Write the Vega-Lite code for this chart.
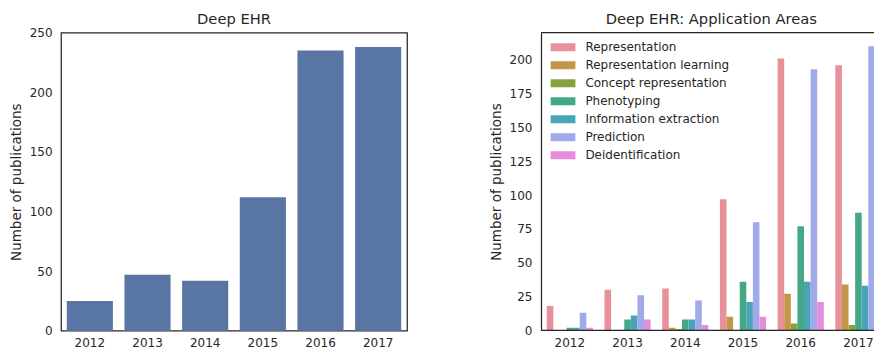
{
  "$schema": "https://vega.github.io/schema/vega-lite/v6.json",
  "padding": {"left": 8, "top": 10.7, "right": 0, "bottom": 0},
  "spacing": 81,
  "resolve": {"legend": {"color": "independent"}, "scale": {"color": "independent"}},
  "config": {
    "font": "DejaVu Sans",
    "view": {"stroke": "#262626", "strokeWidth": 1.25},
    "axis": {
      "labelFont": "DejaVu Sans", "titleFont": "DejaVu Sans",
      "labelColor": "#262626", "titleColor": "#262626",
      "labelFontSize": 12, "titleFontSize": 13.5, "titleFontWeight": "normal",
      "ticks": false, "tickSize": 0, "grid": false, "domain": false,
      "labelPadding": 9, "titlePadding": 6, "labelOverlap": false
    },
    "axisX": {"labelPadding": 7},
    "title": {"font": "DejaVu Sans", "fontSize": 14.7, "fontWeight": "normal", "color": "#262626", "offset": -0.3},
    "legend": {
      "labelFont": "DejaVu Sans", "labelFontSize": 12, "labelColor": "#262626",
      "symbolType": "M-1,-0.32H1V0.32H-1Z", "symbolSize": 625, "symbolStrokeWidth": 0,
      "labelOffset": 10, "rowPadding": 0, "clipHeight": 17.5, "padding": 0
    }
  },
  "datasets": {
    "total": [
      {"year": "2012", "count": 25},
      {"year": "2013", "count": 47},
      {"year": "2014", "count": 42},
      {"year": "2015", "count": 112},
      {"year": "2016", "count": 235},
      {"year": "2017", "count": 238}
    ],
    "areas": [
      {"year": "2012", "area": "Representation", "count": 18},
      {"year": "2012", "area": "Representation learning", "count": 0},
      {"year": "2012", "area": "Concept representation", "count": 0},
      {"year": "2012", "area": "Phenotyping", "count": 2},
      {"year": "2012", "area": "Information extraction", "count": 2},
      {"year": "2012", "area": "Prediction", "count": 13},
      {"year": "2012", "area": "Deidentification", "count": 2},
      {"year": "2013", "area": "Representation", "count": 30},
      {"year": "2013", "area": "Representation learning", "count": 0},
      {"year": "2013", "area": "Concept representation", "count": 0},
      {"year": "2013", "area": "Phenotyping", "count": 8},
      {"year": "2013", "area": "Information extraction", "count": 11},
      {"year": "2013", "area": "Prediction", "count": 26},
      {"year": "2013", "area": "Deidentification", "count": 8},
      {"year": "2014", "area": "Representation", "count": 31},
      {"year": "2014", "area": "Representation learning", "count": 2},
      {"year": "2014", "area": "Concept representation", "count": 1},
      {"year": "2014", "area": "Phenotyping", "count": 8},
      {"year": "2014", "area": "Information extraction", "count": 8},
      {"year": "2014", "area": "Prediction", "count": 22},
      {"year": "2014", "area": "Deidentification", "count": 4},
      {"year": "2015", "area": "Representation", "count": 97},
      {"year": "2015", "area": "Representation learning", "count": 10},
      {"year": "2015", "area": "Concept representation", "count": 0},
      {"year": "2015", "area": "Phenotyping", "count": 36},
      {"year": "2015", "area": "Information extraction", "count": 21},
      {"year": "2015", "area": "Prediction", "count": 80},
      {"year": "2015", "area": "Deidentification", "count": 10},
      {"year": "2016", "area": "Representation", "count": 201},
      {"year": "2016", "area": "Representation learning", "count": 27},
      {"year": "2016", "area": "Concept representation", "count": 5},
      {"year": "2016", "area": "Phenotyping", "count": 77},
      {"year": "2016", "area": "Information extraction", "count": 36},
      {"year": "2016", "area": "Prediction", "count": 193},
      {"year": "2016", "area": "Deidentification", "count": 21},
      {"year": "2017", "area": "Representation", "count": 196},
      {"year": "2017", "area": "Representation learning", "count": 34},
      {"year": "2017", "area": "Concept representation", "count": 4},
      {"year": "2017", "area": "Phenotyping", "count": 87},
      {"year": "2017", "area": "Information extraction", "count": 33},
      {"year": "2017", "area": "Prediction", "count": 210},
      {"year": "2017", "area": "Deidentification", "count": 31}
    ],
    "frame": [
      {"edge": "top", "value": 220},
      {"edge": "bottom", "value": 0}
    ]
  },
  "hconcat": [
    {
      "title": "Deep EHR",
      "width": 346,
      "height": 298,
      "data": {"name": "total"},
      "mark": {"type": "bar", "color": "#5975a4"},
      "encoding": {
        "x": {"field": "year", "type": "ordinal", "title": null,
              "axis": {"labelAngle": 0},
              "scale": {"paddingInner": 0.2, "paddingOuter": 0.1}},
        "y": {"field": "count", "type": "quantitative", "title": "Number of publications",
              "scale": {"domain": [0, 250], "nice": false},
              "axis": {"values": [0, 50, 100, 150, 200, 250]}}
      }
    },
    {
      "title": {"text": "Deep EHR: Application Areas", "dx": 3, "offset": 5.8},
      "width": 334.7,
      "height": 297.7,
      "view": {"stroke": null},
      "resolve": {"legend": {"color": "independent"}},
      "layer": [
        {
          "data": {"name": "areas"},
          "mark": {"type": "bar", "clip": true},
          "encoding": {
            "x": {"field": "year", "type": "ordinal", "title": null,
                  "axis": {"labelAngle": 0},
                  "scale": {"paddingInner": 0.2, "paddingOuter": 0.1, "range": [0, 346.3]}},
            "xOffset": {"field": "area", "type": "nominal",
                  "scale": {"paddingInner": 0, "paddingOuter": 0,
                            "domain": ["Representation", "Representation learning", "Concept representation", "Phenotyping", "Information extraction", "Prediction", "Deidentification"]}},
            "y": {"field": "count", "type": "quantitative", "title": "Number of publications",
                  "scale": {"domain": [0, 220], "nice": false},
                  "axis": {"values": [0, 25, 50, 75, 100, 125, 150, 175, 200], "domain": true, "domainColor": "#262626", "domainWidth": 1.25, "labelOverlap": false}},
            "color": {"field": "area", "type": "nominal",
                  "scale": {"domain": ["Representation", "Representation learning", "Concept representation", "Phenotyping", "Information extraction", "Prediction", "Deidentification"],
                            "range": ["#e8919c", "#c49648", "#85a23e", "#44a887", "#4aa4b8", "#a0aae8", "#e68cdc"]},
                  "legend": {"title": null, "orient": "none", "legendX": 9.4, "legendY": 5.8}}
          }
        },
        {
          "data": {"name": "frame"},
          "mark": {"type": "rule", "color": "#262626", "strokeWidth": 1.25},
          "encoding": {
            "y": {"field": "value", "type": "quantitative", "title": "Number of publications",
                  "axis": {"values": [0, 25, 50, 75, 100, 125, 150, 175, 200], "domain": true, "domainColor": "#262626", "domainWidth": 1.25, "labelOverlap": false}}
          }
        }
      ]
    }
  ]
}
